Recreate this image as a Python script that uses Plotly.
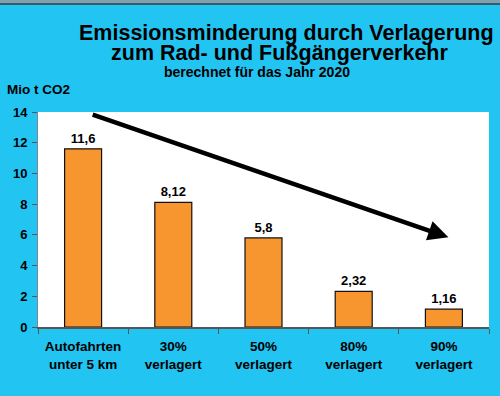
import plotly.graph_objects as go

categories = ["Autofahrten<br>unter 5 km", "30%<br>verlagert", "50%<br>verlagert", "80%<br>verlagert", "90%<br>verlagert"]
values = [11.6, 8.12, 5.8, 2.32, 1.16]
value_labels = [f"{v:g}".replace(".", ",") for v in values]
y_ticks = [0, 2, 4, 6, 8, 10, 12, 14]

FONT = "Liberation Sans, Arial, sans-serif"
BG = "#22C4F2"

W, H = 500, 396
L, R, T, B = 38, 11, 112, 69
ph = H - T - B
pw = W - L - R

def py(p):  # pixel y -> paper y
    return (H - B - p) / ph

def px(p):
    return (p - L) / pw

fig = go.Figure()
fig.add_trace(go.Bar(
    x=categories, y=values,
    text=value_labels, textposition="outside", cliponaxis=False,
    texttemplate="<b>%{text}</b>",
    textfont=dict(family=FONT, size=13, color="#000000"),
    marker=dict(color="#F7962F", line=dict(color="#111111", width=1.2)),
    width=0.41,
))

fig.update_layout(
    width=W, height=H,
    margin=dict(l=L, r=R, t=T, b=B),
    paper_bgcolor=BG, plot_bgcolor="#FFFFFF",
    showlegend=False,
    font=dict(family=FONT, color="#000000"),
    xaxis=dict(
        type="category", tickson="boundaries", ticks="outside", ticklen=5,
        tickcolor="#555555", showline=True, linecolor="#555555", linewidth=1.5,
        tickfont=dict(family=FONT, size=13.5, color="#000000"),
        tickvals=categories, ticktext=[f"<b>{c}</b>" for c in categories],
        ticklabelstandoff=6,
        showgrid=False,
    ),
    yaxis=dict(
        range=[0, 14], tickvals=y_ticks, ticktext=[f"<b>{t}</b>" for t in y_ticks],
        ticks="outside", ticklen=5, ticklabelstandoff=2,
        tickcolor="#555555", showline=True, linecolor="#7a8a90", linewidth=1,
        tickfont=dict(family=FONT, size=13, color="#000000"),
        showgrid=False, zeroline=False,
    ),
    bargap=0.59,
)

anns = [
    dict(text="<b>Emissionsminderung durch Verlagerung</b>", x=px(286), y=py(32.5),
         font=dict(size=21.5)),
    dict(text="<b>zum Rad- und Fußgängerverkehr</b>", x=px(280), y=py(52.5),
         font=dict(size=21.5)),
    dict(text="<b>berechnet für das Jahr 2020</b>", x=px(257), y=py(71.5),
         font=dict(size=14)),
    dict(text="<b>Mio t CO2</b>", x=px(6), y=py(89.5), xanchor="left",
         font=dict(size=13.5)),
]
for a in anns:
    a.update(xref="paper", yref="paper", showarrow=False, borderpad=0)
    a.setdefault("xanchor", "center")
    a["yanchor"] = "middle"
    a["font"]["family"] = FONT
    a["font"]["color"] = "#000000"
    fig.add_annotation(**a)

# trend arrow
fig.add_annotation(
    x=4.05, y=5.84, ax=0.09, ay=13.87,
    xref="x", yref="y", axref="x", ayref="y",
    showarrow=True, arrowhead=2, arrowsize=0.9, arrowwidth=4.5, arrowcolor="#000000",
    text="",
)

# top border strip
fig.add_shape(type="rect", xref="paper", yref="paper",
              x0=px(0), x1=px(W), y0=py(3), y1=py(0), fillcolor="#7FA0AE", line_width=0, layer="above")
fig.add_shape(type="rect", xref="paper", yref="paper",
              x0=px(0), x1=px(W), y0=py(5), y1=py(3), fillcolor="#3D5866", line_width=0, layer="above")

fig.write_html("out.html", config={"displayModeBar": False},
               post_script="document.body.style.margin='0';document.body.style.padding='0';")
